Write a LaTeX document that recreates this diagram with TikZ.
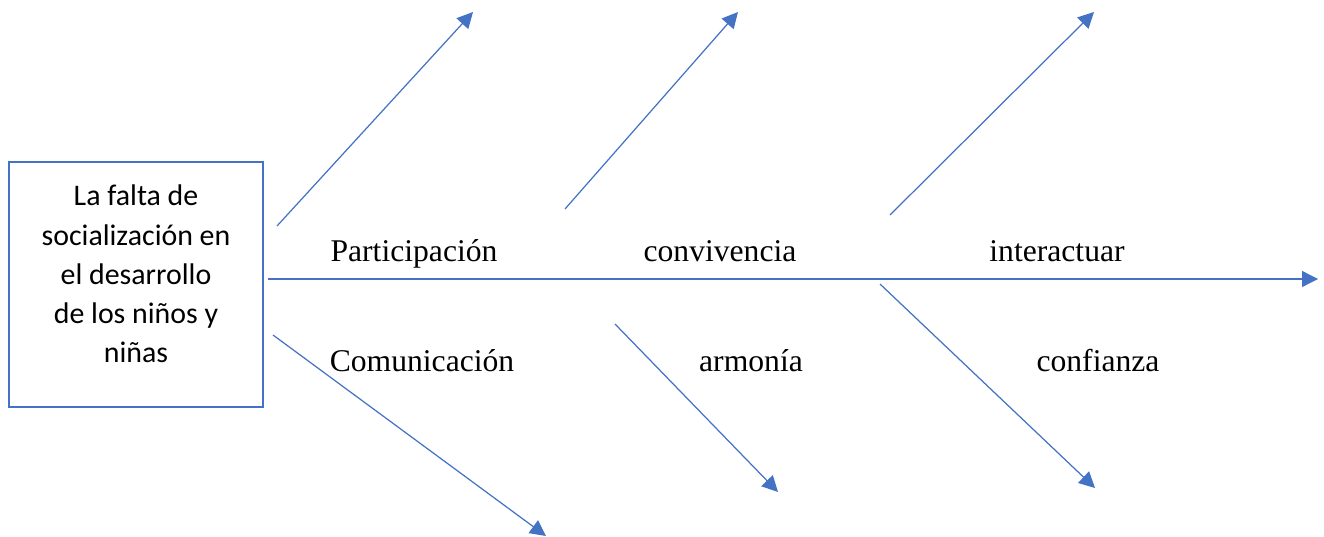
\documentclass[tikz,border=0pt]{standalone}
\usepackage{fontspec}
\setmainfont{Liberation Serif}
\newfontfamily\boxfont{Carlito}
\usetikzlibrary{arrows.meta}
\definecolor{spineblue}{HTML}{4472C4}
\tikzset{
  bone/.style={draw=spineblue, line width=0.7pt, -{Triangle[length=9pt,width=9pt]}},
  cause/.style={font=\fontsize{18}{22}\selectfont, inner sep=0pt, anchor=base}
}
\begin{document}
\begin{tikzpicture}[x=0.02cm, y=-0.02cm]
\useasboundingbox (0,0) rectangle (1324,537);
% Problem box
\draw[spineblue, line width=1.2pt] (9,162) rectangle (263,407);
\node[align=center, font=\boxfont\fontsize{17}{22.3}\selectfont] (problema) at (136,274)
  {La falta de\\socialización en\\el desarrollo\\de los niños y\\niñas};

% Spine
\coordinate (S0) at (268,279);
\coordinate (S1) at (1318,279);
\draw[bone] (S0) -- (S1);

% Upper bones
\coordinate (A0) at (277,226);
\coordinate (A1) at (473,12);
\coordinate (B0) at (565,209);
\coordinate (B1) at (738,12);
\coordinate (C0) at (890,215);
\coordinate (C1) at (1094,12);
\draw[bone] (A0) -- (A1);
\draw[bone] (B0) -- (B1);
\draw[bone] (C0) -- (C1);

% Lower bones
\coordinate (D0) at (273,335);
\coordinate (D1) at (546,536);
\coordinate (E0) at (615,324);
\coordinate (E1) at (778,492);
\coordinate (F0) at (880,284);
\coordinate (F1) at (1095,488);
\draw[bone] (D0) -- (D1);
\draw[bone] (E0) -- (E1);
\draw[bone] (F0) -- (F1);

% Causes
\node[cause] (participacion) at (414,261) {Participación};
\node[cause] (convivencia) at (720,261) {convivencia};
\node[cause] (interactuar) at (1057,261) {interactuar};
\node[cause] (comunicacion) at (422,371) {Comunicación};
\node[cause] (armonia) at (751,371) {armonía};
\node[cause] (confianza) at (1098,371) {confianza};
\end{tikzpicture}
\end{document}
